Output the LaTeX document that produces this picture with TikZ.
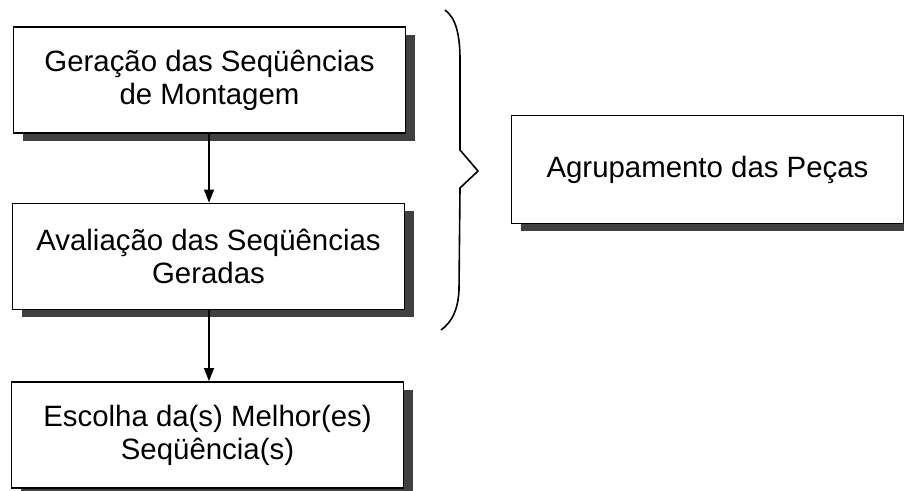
\documentclass[tikz,border=0pt]{standalone}
\usepackage{fontspec}
\setmainfont{Liberation Sans}
\usetikzlibrary{arrows.meta,shadows}
\tikzset{
  stepbox/.style={draw, line width=0.9pt, fill=white, minimum width=196pt,
    minimum height=53pt, align=center, inner sep=0pt,
    font=\fontsize{14.7}{16.5}\selectfont,
    general shadow={fill=black!75, shadow xshift=4.75pt, shadow yshift=-4pt}},
  flow/.style={line width=0.6pt, -{Triangle[length=6.5pt, width=5pt]}}
}
\begin{document}
\begin{tikzpicture}[x=0.5pt, y=-0.5pt]
          \useasboundingbox (0,0) rectangle (904,491);
          \node[stepbox] (gen) at (209.5,80) {Geração das Seqüências\\de Montagem};
          \node[stepbox] (aval) at (208.5,256.5) {Avaliação das Seqüências\\Geradas};
          \node[stepbox] (esc) at (207.5,435) {Escolha da(s) Melhor(es)\\Seqüência(s)};
          \node[stepbox, minimum height=54pt] (agr) at (707.5,169.5) {Agrupamento das Peças};
          \draw[flow] (gen.south -| 209,0) -- (aval.north -| 209,0);
          \draw[flow] (aval.south -| 209,0) -- (esc.north -| 209,0);
          % chave
          \draw[line width=0.8pt, line join=miter] (445,10) .. controls (456,18) and
          (460,35) .. (460,60) -- (460,150) -- (478,171) -- (460,188) --
          (459,290) .. controls (458,310) and (452,322) .. (441,330);
        \end{tikzpicture}
\end{document}
